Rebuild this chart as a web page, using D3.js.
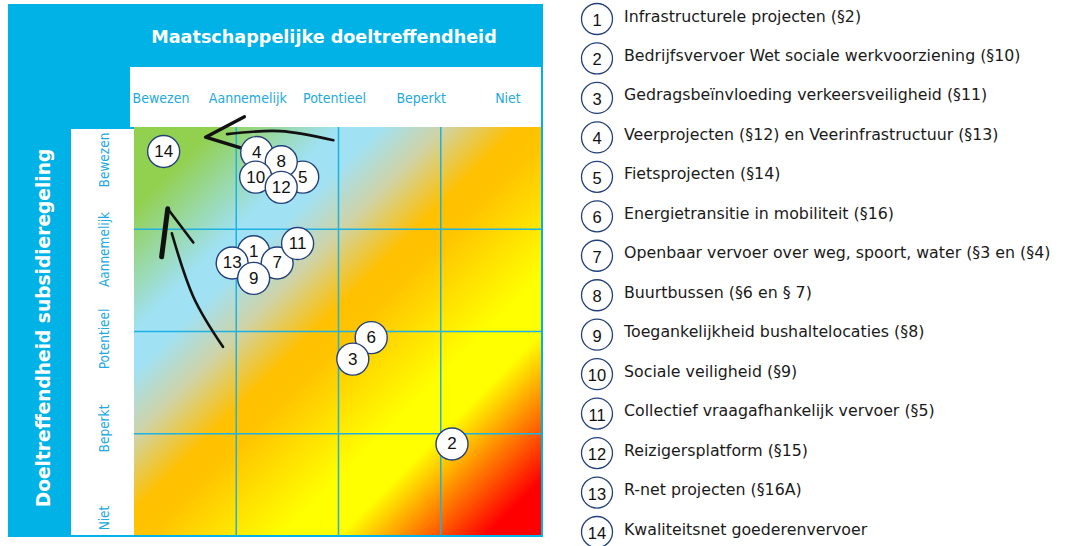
<!DOCTYPE html>
<html lang="nl">
<head>
<meta charset="utf-8">
<title>Doeltreffendheid</title>
<style>
  body { margin: 0; background: #fff; }
  text { font-family: "DejaVu Sans", Verdana, sans-serif; }
  .num { font-family: "Liberation Sans", Arial, sans-serif; }
  .lvl { font-family: "DejaVu Sans Condensed", "DejaVu Sans", sans-serif; }
</style>
</head>
<body>
<svg width="1066" height="546"></svg>
<script src="https://cdn.jsdelivr.net/npm/d3@7"></script>
<script>
  // scale labels (same on both axes)
  var levels = ["Bewezen", "Aannemelijk", "Potentieel", "Beperkt", "Niet"];

  // projects, numbered 1..14
  var projectIds = [1, 2, 3, 4, 5, 6, 7, 8, 9, 10, 11, 12, 13, 14];
  var projectNames = [
    "Infrastructurele projecten (§2)",
    "Bedrijfsvervoer Wet sociale werkvoorziening (§10)",
    "Gedragsbeïnvloeding verkeersveiligheid (§11)",
    "Veerprojecten (§12) en Veerinfrastructuur (§13)",
    "Fietsprojecten (§14)",
    "Energietransitie in mobiliteit (§16)",
    "Openbaar vervoer over weg, spoort, water (§3 en (§4)",
    "Buurtbussen (§6 en § 7)",
    "Toegankelijkheid bushaltelocaties (§8)",
    "Sociale veiligheid (§9)",
    "Collectief vraagafhankelijk vervoer (§5)",
    "Reizigersplatform (§15)",
    "R-net projecten (§16A)",
    "Kwaliteitsnet goederenvervoer"
  ];
  // maatschappelijke doeltreffendheid (0 = bewezen ... 4 = niet)
  var socialScore = [1.17, 3.11, 2.14, 1.20, 1.65, 2.32, 1.40, 1.44, 1.17, 1.19, 1.60, 1.44, 0.96, 0.29];
  // doeltreffendheid subsidieregeling (0 = bewezen ... 4 = niet)
  var schemeScore = [1.22, 3.10, 2.27, 0.25, 0.49, 2.06, 1.33, 0.34, 1.48, 0.49, 1.14, 0.59, 1.33, 0.24];
  // stacking order of the bubbles
  var drawOrder = [14, 4, 5, 8, 10, 12, 1, 13, 7, 11, 9, 6, 3, 2];

  // hand drawn arrows, in score units
  var arrowTopShaft = [[1.95, 0.13], [1.43, 0.04], [0.91, 0.07]];
  var arrowTopHead = [[1.08, -0.10], [0.70, 0.10], [1.06, 0.21]];
  var arrowLeftShaft = [[0.87, 2.15], [0.58, 1.66], [0.37, 1.04]];
  var arrowLeftHead = [[0.27, 1.27], [0.33, 0.80], [0.58, 1.13]];

  var svg = d3.select("svg");
  var blue = "#00b2e5", labelBlue = "#22a9e1", gridBlue = "#1fb1e0", navy = "#23407a";

  var x = d3.scaleLinear().domain([0, 4]).range([134, 543]),
      y = d3.scaleLinear().domain([0, 4]).range([127, 536]);
  var xLab = d3.scalePoint().domain(levels).range([161, 508]),
      yLab = d3.scalePoint().domain(levels).range([160, 518]);

  // gradient background
  var grad = svg.append("defs").append("linearGradient")
    .attr("id", "bg").attr("x1", 0).attr("y1", 0).attr("x2", 1).attr("y2", 1);
  [[0, "#92d050"], [0.1, "#92d050"], [0.25, "#a0e1f4"], [0.3, "#a0e1f4"],
   [0.38, "#cfd3a6"], [0.47, "#ffc000"], [0.52, "#ffc400"], [0.68, "#ffff00"],
   [0.75, "#ffff00"], [0.93, "#ff0000"], [1, "#ff0000"]].forEach(function(s) {
    grad.append("stop").attr("offset", s[0]).attr("stop-color", s[1]);
  });

  // frame
  svg.append("rect").attr("x", 8).attr("y", 4).attr("width", 535).attr("height", 533).attr("fill", blue);
  svg.append("rect").attr("x", 130).attr("y", 67).attr("width", 412).attr("height", 60).attr("fill", "#fff");
  svg.append("rect").attr("x", 71).attr("y", 129).attr("width", 63).attr("height", 407).attr("fill", "#fff");
  svg.append("rect")
    .attr("x", x(0)).attr("y", y(0))
    .attr("width", x(4) - x(0)).attr("height", y(4) - y(0))
    .attr("fill", "url(#bg)");

  // grid
  var g = svg.append("g");
  g.selectAll(".vl").data([1, 2, 3]).enter().append("line")
    .attr("x1", function(d) { return x(d); }).attr("x2", function(d) { return x(d); })
    .attr("y1", y(0)).attr("y2", y(4))
    .attr("stroke", gridBlue).attr("stroke-width", 1.5);
  g.selectAll(".hl").data([1, 2, 3]).enter().append("line")
    .attr("y1", function(d) { return y(d); }).attr("y2", function(d) { return y(d); })
    .attr("x1", x(0)).attr("x2", x(4))
    .attr("stroke", gridBlue).attr("stroke-width", 1.5);
  svg.append("path")
    .attr("d", "M8," + y(4) + "H" + (x(4) - 1) + "V4")
    .attr("fill", "none").attr("stroke", blue).attr("stroke-width", 2);

  // titles
  svg.append("text").attr("x", 324).attr("y", 37)
    .attr("text-anchor", "middle").attr("dominant-baseline", "central")
    .attr("fill", "#fff").attr("font-weight", "bold").attr("font-size", 17.6)
    .text("Maatschappelijke doeltreffendheid");
  svg.append("text")
    .attr("transform", "translate(43,328) rotate(-90)")
    .attr("text-anchor", "middle").attr("dominant-baseline", "central")
    .attr("fill", "#fff").attr("font-weight", "bold").attr("font-size", 18.6)
    .text("Doeltreffendheid subsidieregeling");

  // level labels
  svg.selectAll(".xl").data(levels).enter().append("text").attr("class", "lvl")
    .attr("x", function(d) { return xLab(d); }).attr("y", 98)
    .attr("text-anchor", "middle").attr("dominant-baseline", "central")
    .attr("fill", labelBlue).attr("font-size", 14)
    .text(function(d) { return d; });
  svg.selectAll(".yl").data(levels).enter().append("text").attr("class", "lvl")
    .attr("transform", function(d) { return "translate(104," + yLab(d) + ") rotate(-90)"; })
    .attr("text-anchor", "middle").attr("dominant-baseline", "central")
    .attr("fill", labelBlue).attr("font-size", 13.5)
    .text(function(d) { return d; });

  // arrows
  var line = d3.line()
    .x(function(d) { return x(d[0]); })
    .y(function(d) { return y(d[1]); });
  var arrows = svg.append("g").attr("fill", "none").attr("stroke", "#111")
    .attr("stroke-linecap", "round").attr("stroke-linejoin", "round");
  arrows.append("path").attr("d", line.curve(d3.curveNatural)(arrowTopShaft)).attr("stroke-width", 2.6);
  arrows.append("path").attr("d", line.curve(d3.curveLinear)(arrowTopHead)).attr("stroke-width", 3.4);
  arrows.append("path").attr("d", line.curve(d3.curveNatural)(arrowLeftShaft)).attr("stroke-width", 2.6);
  arrows.append("path").attr("d", line.curve(d3.curveLinear)(arrowLeftHead.slice(0, 2))).attr("stroke-width", 5);
  arrows.append("path").attr("d", line.curve(d3.curveLinear)(arrowLeftHead.slice(1))).attr("stroke-width", 2.6);

  // bubbles
  var bubbles = svg.selectAll(".bubble").data(drawOrder).enter().append("g")
    .attr("transform", function(id) {
      return "translate(" + x(socialScore[id - 1]) + "," + y(schemeScore[id - 1]) + ")";
    });
  bubbles.append("circle").attr("r", 16)
    .attr("fill", "#fff").attr("stroke", navy).attr("stroke-width", 1.4);
  bubbles.append("text").attr("class", "num")
    .attr("text-anchor", "middle").attr("dominant-baseline", "central")
    .attr("font-size", 17).attr("fill", "#111")
    .text(function(id) { return id; });

  // legend
  var ly = d3.scalePoint().domain(projectIds).range([19, 532]);
  var legend = svg.selectAll(".leg").data(projectIds).enter().append("g")
    .attr("transform", function(id) { return "translate(597," + ly(id) + ")"; });
  legend.append("circle").attr("r", 15.5)
    .attr("fill", "#fff").attr("stroke", navy).attr("stroke-width", 1.3);
  legend.append("text").attr("class", "num")
    .attr("text-anchor", "middle").attr("dominant-baseline", "central")
    .attr("y", 1).attr("font-size", 16.5).attr("fill", "#111")
    .text(function(id) { return id; });
  legend.append("text")
    .attr("x", 27).attr("y", -3).attr("dominant-baseline", "central")
    .attr("font-size", 15.8).attr("fill", "#1a1a1a")
    .text(function(id) { return projectNames[id - 1]; });
</script>
</body>
</html>
